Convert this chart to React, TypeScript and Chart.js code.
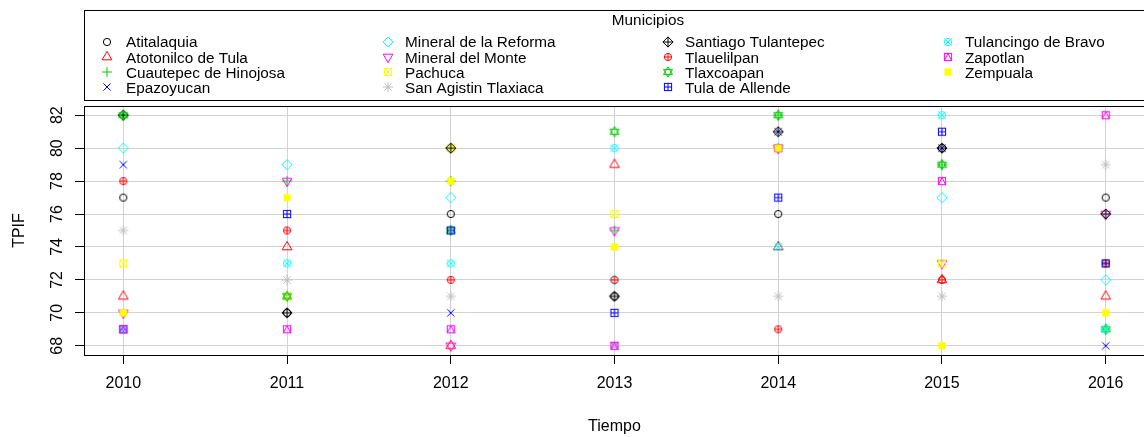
import React, { useEffect, useRef } from 'react';
import { Chart, registerables } from 'chart.js';

Chart.register(...registerables);

const years = [2010, 2011, 2012, 2013, 2014, 2015, 2016];
const yTicks = [68, 70, 72, 74, 76, 78, 80, 82];

const municipios = [
  'Atitalaquia', 'Atotonilco de Tula', 'Cuautepec de Hinojosa', 'Epazoyucan',
  'Mineral de la Reforma', 'Mineral del Monte', 'Pachuca', 'San Agistin Tlaxiaca',
  'Santiago Tulantepec', 'Tlauelilpan', 'Tlaxcoapan', 'Tula de Allende',
  'Tulancingo de Bravo', 'Zapotlan', 'Zempuala',
];

const atitalaquia = [77, 70, 76, 71, 76, 80, 77];
const atotonilco = [71, 74, 68, 79, 74, 72, 71];
const cuautepec = [82, 78, 78, 75, 82, 79, 69];
const epazoyucan = [79, 71, 70, 68, 81, 80, 68];
const mineralReforma = [80, 79, 77, 72, 80, 77, 72];
const mineralMonte = [70, 78, 68, 75, 80, 73, 76];
const pachuca = [73, 71, 80, 76, 80, 73, 73];
const sanAgistin = [75, 72, 71, 68, 71, 71, 79];
const santiago = [82, 70, 80, 71, 81, 80, 76];
const tlauelilpan = [78, 75, 72, 72, 69, 72, 73];
const tlaxcoapan = [82, 71, 75, 81, 82, 79, 69];
const tulaAllende = [69, 76, 75, 70, 77, 81, 73];
const tulancingo = [69, 73, 73, 80, 74, 82, 69];
const zapotlan = [69, 69, 69, 68, 80, 78, 82];
const zempuala = [70, 77, 78, 74, 80, 68, 70];

const seriesValues = [
  atitalaquia, atotonilco, cuautepec, epazoyucan, mineralReforma, mineralMonte,
  pachuca, sanAgistin, santiago, tlauelilpan, tlaxcoapan, tulaAllende,
  tulancingo, zapotlan, zempuala,
];

const palette = ['#000000', '#FF0000', '#00CD00', '#0000FF', '#00FFFF', '#FF00FF', '#FFFF00', '#BEBEBE'];
const symbols = [1, 2, 3, 4, 5, 6, 7, 8, 9, 10, 11, 12, 13, 14, 15];

const FONT = '"Liberation Sans", Arial, sans-serif';

function drawPch(ctx: CanvasRenderingContext2D, pch: number, cx: number, cy: number, color: string) {
  const r = 3.6;
  const s2 = Math.SQRT2 * r;
  ctx.save();
  ctx.strokeStyle = color;
  ctx.fillStyle = color;
  ctx.lineWidth = 1;
  const line = (x1: number, y1: number, x2: number, y2: number) => {
    ctx.beginPath();
    ctx.moveTo(cx + x1, cy + y1);
    ctx.lineTo(cx + x2, cy + y2);
    ctx.stroke();
  };
  const poly = (pts: number[][]) => {
    ctx.beginPath();
    pts.forEach((p, i) => (i ? ctx.lineTo(cx + p[0], cy + p[1]) : ctx.moveTo(cx + p[0], cy + p[1])));
    ctx.closePath();
    ctx.stroke();
  };
  const circle = () => {
    ctx.beginPath();
    ctx.arc(cx, cy, r, 0, Math.PI * 2);
    ctx.stroke();
  };
  const tr = 1.5551 * r, tyc = 0.7776 * r, txc = 1.3468 * r;
  switch (pch) {
    case 1: circle(); break;
    case 2: poly([[0, -tr], [txc, tyc], [-txc, tyc]]); break;
    case 3: line(-s2, 0, s2, 0); line(0, -s2, 0, s2); break;
    case 4: line(-r, -r, r, r); line(-r, r, r, -r); break;
    case 5: poly([[0, -s2], [s2, 0], [0, s2], [-s2, 0]]); break;
    case 6: poly([[0, tr], [txc, -tyc], [-txc, -tyc]]); break;
    case 7: ctx.strokeRect(cx - r, cy - r, 2 * r, 2 * r); line(-r, -r, r, r); line(-r, r, r, -r); break;
    case 8: line(-s2, 0, s2, 0); line(0, -s2, 0, s2); line(-r, -r, r, r); line(-r, r, r, -r); break;
    case 9: poly([[0, -s2], [s2, 0], [0, s2], [-s2, 0]]); line(-s2, 0, s2, 0); line(0, -s2, 0, s2); break;
    case 10: circle(); line(-r, 0, r, 0); line(0, -r, 0, r); break;
    case 11: {
      const h = 5.2, xc = 4.5;
      poly([[0, -h], [xc, h / 2], [-xc, h / 2]]);
      poly([[0, h], [xc, -h / 2], [-xc, -h / 2]]);
      break;
    }
    case 12: ctx.strokeRect(cx - r, cy - r, 2 * r, 2 * r); line(-r, 0, r, 0); line(0, -r, 0, r); break;
    case 13: circle(); line(-r, -r, r, r); line(-r, r, r, -r); break;
    case 14: ctx.strokeRect(cx - r, cy - r, 2 * r, 2 * r); line(0, -r, r, r); line(0, -r, -r, r); break;
    case 15: ctx.fillRect(cx - r, cy - r, 2 * r, 2 * r); break;
  }
  ctx.restore();
}

function makeSymbol(pch: number, color: string): HTMLCanvasElement {
  const c = document.createElement('canvas');
  c.width = 14;
  c.height = 14;
  const ctx = c.getContext('2d')!;
  drawPch(ctx, pch, 7, 7, color);
  return c;
}

export default function App() {
  const ref = useRef<HTMLCanvasElement>(null);

  useEffect(() => {
    if (!ref.current) return;
    const symbolCanvases = symbols.map((p, i) => makeSymbol(p, palette[i % palette.length]));

    const overlay = {
      id: 'rOverlay',
      afterDraw(chart: any) {
        const ctx: CanvasRenderingContext2D = chart.ctx;
        const a = chart.chartArea;
        ctx.save();
        // plot box
        ctx.strokeStyle = '#000';
        ctx.lineWidth = 1;
        const top = Math.round(a.top) + 0.5;
        const bottom = Math.round(a.bottom) + 0.5;
        ctx.strokeRect(Math.round(a.left) + 0.5, top, Math.round(a.right - a.left), bottom - top);
        // y tick labels (rotated like R)
        const ys = chart.scales.y;
        ctx.font = `16px ${FONT}`;
        ctx.fillStyle = '#000';
        ctx.textAlign = 'center';
        ctx.textBaseline = 'alphabetic';
        for (const v of yTicks) {
          const py = ys.getPixelForValue(v);
          ctx.save();
          ctx.translate(62, py);
          ctx.rotate(-Math.PI / 2);
          ctx.fillText(String(v), 0, 0);
          ctx.restore();
        }
        // legend
        ctx.strokeRect(84.5, 10.5, 1200, 90);
        ctx.font = `15.3px ${FONT}`;
        ctx.textAlign = 'center';
        ctx.fillText('Municipios', 648, 25);
        const symX = [107, 388, 668, 948];
        const textX = [126, 405, 685, 965];
        ctx.textAlign = 'left';
        municipios.forEach((name, i) => {
          const col = Math.floor(i / 4);
          const row = i % 4;
          const base = 47.3 + row * 15.33;
          ctx.drawImage(symbolCanvases[i], symX[col] - 7, Math.round(base - 5.8) - 7);
          ctx.fillText(name, textX[col], base);
        });
        ctx.restore();
      },
    };

    const chart = new Chart(ref.current, {
      type: 'scatter',
      data: {
        datasets: seriesValues.map((vals, i) => ({
          label: municipios[i],
          data: years.map((yr, j) => ({ x: yr, y: vals[j] })),
          pointStyle: symbolCanvases[i] as any,
          pointRadius: 5,
          showLine: false,
          order: -i,
        })),
      },
      options: {
        responsive: false,
        animation: false,
        events: [],
        layout: { padding: { top: 106, right: 55, left: 0, bottom: 0 } },
        plugins: { legend: { display: false }, tooltip: { enabled: false } },
        scales: {
          x: {
            type: 'linear',
            min: 2009.76,
            max: 2016.24,
            afterBuildTicks: (s: any) => { s.ticks = years.map((v) => ({ value: v })); },
            afterFit: (s: any) => { s.height = 82; },
            grid: { color: '#D3D3D3', tickColor: '#000', tickLength: 9, drawTicks: true },
            border: { color: '#000' },
            ticks: {
              color: '#000', font: { family: FONT, size: 16 }, padding: 10,
              autoSkip: false, maxRotation: 0, minRotation: 0,
              callback: (v: any) => String(v),
            },
            title: { display: true, text: 'Tiempo', color: '#000', font: { family: FONT, size: 16 }, padding: { top: 0, bottom: 1 } },
          },
          y: {
            type: 'linear',
            min: 67.44,
            max: 82.56,
            afterBuildTicks: (s: any) => { s.ticks = yTicks.map((v) => ({ value: v })); },
            afterFit: (s: any) => { s.width = 84; },
            grid: { color: '#D3D3D3', tickColor: '#000', tickLength: 9, drawTicks: true },
            border: { color: '#000' },
            ticks: { display: false },
            title: { display: true, text: 'TPIF', color: '#000', font: { family: FONT, size: 16 }, padding: { top: 10, bottom: 0 } },
          },
        },
      },
      plugins: [overlay],
    });
    return () => chart.destroy();
  }, []);

  return (
    <div style={{ position: 'absolute', left: 0, top: 0, width: 1144, height: 437, overflow: 'hidden', background: '#fff' }}>
      <canvas ref={ref} width={1200} height={437} style={{ display: 'block', width: 1200, height: 437 }} />
    </div>
  );
}
